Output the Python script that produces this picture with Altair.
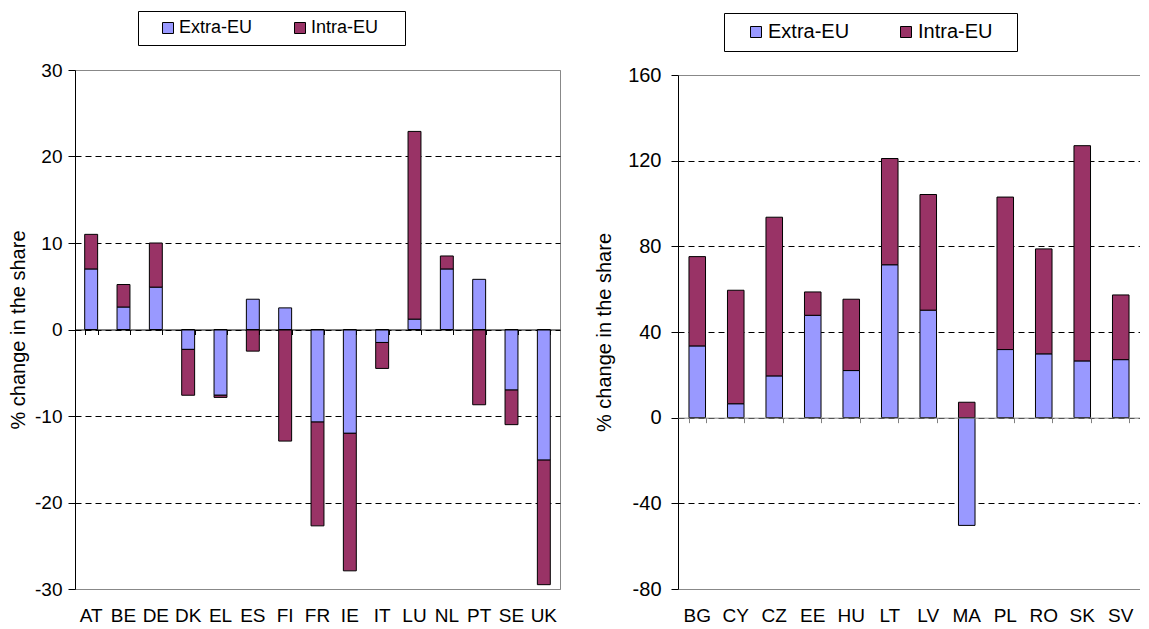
import altair as alt
import pandas as pd

series = ["Extra-EU", "Intra-EU"]
series_colors = ["#9999FF", "#993366"]

old_members = ["AT", "BE", "DE", "DK", "EL", "ES", "FI", "FR", "IE", "IT", "LU", "NL", "PT", "SE", "UK"]
old_extra = [7.0, 2.6, 4.9, -2.3, -7.6, 3.5, 2.5, -10.7, -12.0, -1.5, 1.2, 7.0, 5.8, -7.0, -15.1]
old_intra = [4.0, 2.6, 5.1, -5.3, -0.25, -2.5, -12.9, -12.0, -15.9, -3.0, 21.7, 1.5, -8.7, -4.0, -14.4]

new_members = ["BG", "CY", "CZ", "EE", "HU", "LT", "LV", "MA", "PL", "RO", "SK", "SV"]
new_extra = [33.5, 6.5, 19.5, 47.8, 22.0, 71.4, 50.2, -50.3, 31.8, 29.8, 26.5, 27.1]
new_intra = [41.7, 53.0, 74.1, 10.9, 33.3, 49.6, 54.0, 7.2, 71.2, 49.0, 100.5, 30.2]

left_ticks = [-30, -20, -10, 0, 10, 20, 30]
right_ticks = [-80, -40, 0, 40, 80, 120, 160]

FONT = "Liberation Sans"
BLANK = "\u2800"


def long_table(countries, extra, intra):
    rows = []
    for c, e, i in zip(countries, extra, intra):
        rows.append({"country": c, "series": series[0], "value": e, "order": 0})
        rows.append({"country": c, "series": series[1], "value": i, "order": 1})
    return pd.DataFrame(rows)


def panel(df, countries, ticks, width, height, yrange, yfs, xfs, tfs, lfs, pad_inner, title_pad,
          label_pad, zero_offset, zero_color, leg_x, leg_y, col_pad, leg_pad, sym_off, tail,
          stroke_view):
    lo, hi = ticks[0], ticks[-1]
    edge_test = f"datum.value == {lo} || datum.value == {hi}"
    xscale = alt.Scale(paddingInner=pad_inner, paddingOuter=pad_inner / 2)
    bars = alt.Chart(df).mark_bar(stroke="black", strokeWidth=1).encode(
        x=alt.X("country:N", sort=countries, scale=xscale,
                axis=alt.Axis(title=None, labelAngle=0, ticks=False, domain=False, grid=False,
                              labelFontSize=xfs, labelPadding=17, labelColor="black", labelFont=FONT)),
        y=alt.Y("value:Q", stack="zero",
                scale=alt.Scale(domain=[lo, hi], nice=False, zero=False, range=yrange),
                axis=alt.Axis(values=ticks, title="% change in the share", titleFontSize=tfs,
                              titleFontWeight="normal", titleFont=FONT, titleColor="black",
                              titlePadding=title_pad, labelFontSize=yfs, labelFont=FONT,
                              labelColor="black", labelPadding=label_pad, tickSize=7,
                              labelExpr="datum.value + ''",
                              tickColor="black", domainColor="black", domainWidth=1,
                              grid=True,
                              gridColor={"condition": {"test": edge_test, "value": "#888888"}, "value": "black"},
                              gridDash={"condition": {"test": edge_test, "value": []}, "value": [6, 4]},
                              gridWidth=1, gridOpacity=1)),
        color=alt.Color("series:N", scale=alt.Scale(domain=series, range=series_colors),
                        legend=alt.Legend(title=None, orient="none", legendX=leg_x, legendY=leg_y,
                                          direction="horizontal", symbolType="square",
                                          symbolSize=121, symbolStrokeColor="black",
                                          symbolStrokeWidth=1, symbolOpacity=1,
                                          labelFontSize=lfs, labelFont=FONT, labelColor="black",
                                          labelOffset=2, columnPadding=col_pad, padding=leg_pad,
                                          symbolOffset=sym_off, strokeColor="black", fillColor="white",
                                          labelExpr="datum.label == 'Intra-EU' ? 'Intra-EU" + tail + "' : datum.label")),
        order=alt.Order("order:Q"),
    )
    zero = alt.Chart(df).mark_point(opacity=0).encode(
        x=alt.X("country:N", sort=countries, scale=xscale,
                axis=alt.Axis(title=None, orient="bottom", labels=False, domain=True,
                              domainColor=zero_color, domainWidth=1, ticks=True,
                              tickColor=zero_color, tickSize=5, tickBand="extent",
                              offset=zero_offset, grid=False, zindex=2)),
    )
    view = alt.ViewBackground(stroke="#888888", strokeWidth=1) if stroke_view else \
        alt.ViewBackground(strokeOpacity=0)
    return alt.layer(bars, zero).resolve_axis(x="independent").properties(
        width=width, height=height, view=view)


left_df = long_table(old_members, old_extra, old_intra)
right_df = long_table(new_members, new_extra, new_intra)

left = panel(left_df, old_members, left_ticks, 485, 519, [519, 0], 19, 19, 20, 18, 0.6, 6, 6,
             -259.5, "black", 63, -59, 25, 8, 13, " " + BLANK, True)
right = panel(right_df, new_members, right_ticks, 462, 519, [519, 5], 20, 19, 20, 20, 0.57, 13, 10,
              -171.33, "#808080", 46, -57, 33, 9, 13, BLANK, False)

chart = alt.hconcat(left, right, spacing=118, bounds="flush").resolve_scale(
    x="independent", y="independent", color="independent"
).properties(
    padding={"left": 0, "top": 2, "right": 0, "bottom": 0},
    background="white",
).configure(font=FONT)

chart.save("out.html", embed_options={"renderer": "svg", "actions": False})
